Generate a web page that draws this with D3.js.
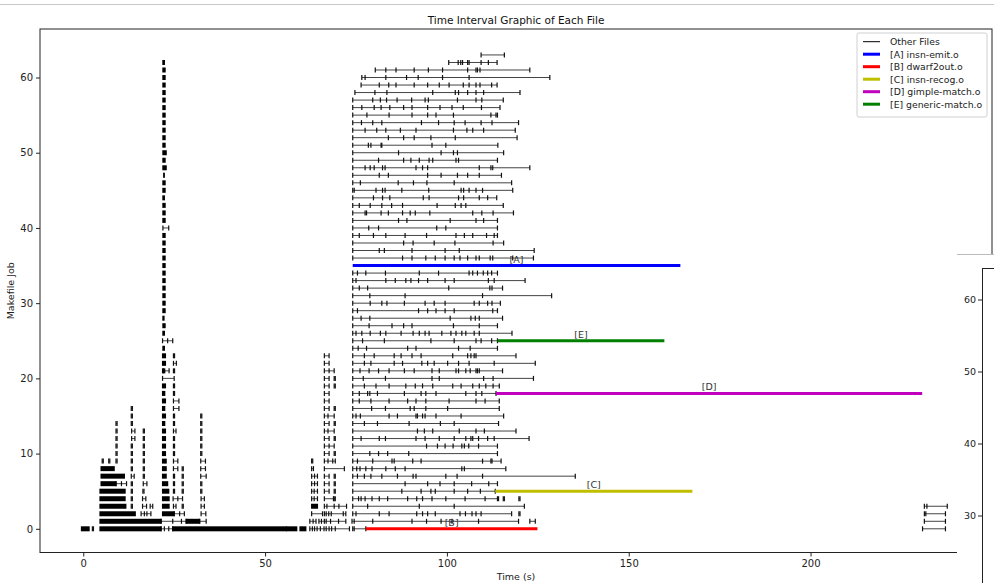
<!DOCTYPE html>
<html><head><meta charset="utf-8">
<script src="https://cdn.jsdelivr.net/npm/d3@7"></script>
<style>body{margin:0;background:#fff}svg{display:block}text{font-family:"DejaVu Sans",sans-serif}</style>
</head><body><svg id="c" width="994" height="583"></svg>
<script>
// ---------------- DATA ----------------
const chartTitle = "Time Interval Graphic of Each File";
const xLabel = "Time (s)";
const yLabel = "Makefile Job";
const xTicks = [0, 50, 100, 150, 200];
const yTicks = [0, 10, 20, 30, 40, 50, 60];

// main block of files per makefile job (index = job), boundaries between files (s)
const mainTicks = [
 [74.1,74.5,77.7],
 [73.9,74.5,79.6,90.4,94.4,98.4,101.4,108.7,119.7],
 [74.1,75.0,81.4,84.1,91.7,93.3,94.7,96.8,103.6,105.1,106.9,108.0,109.4,117.8],
 [74.1,78.2,92.4,102.0,121.3],
 [74.1,75.7,76.4,77.5,79.4,81.4,83.7,89.2,91.7,93.3,95.9,99.7,105.0,110.5,113.9,114.2],
 [74.1,87.6,92.9,95.6,96.8,102.0,105.7,109.2,113.3],
 [74.1,88.5,94.7,98.1,102.0,106.8,111.5,113.9],
 [74.1,75.4,77.3,79.1,82.1,86.4,90.7,91.5,99.7,102.8,109.8,135.3],
 [74.1,75.2,76.1,77.7,79.4,83.2,85.8,88.5,104.1,104.8,116.2],
 [74.1,75.4,79.6,84.9,85.5,90.6,92.9,109.8,112.1,112.4,114.9],
 [74.1,78.8,81.2,83.7,89.5,113.9],
 [74.1,94.4,97.4,99.5,101.7,104.1,104.8,106.0,108.7,113.9],
 [74.1,76.4,81.4,83.1,91.5,94.0,97.9,102.0,105.2,106.6,107.1,108.7,111.2,113.0,122.6],
 [74.1,91.9,93.8,96.1,103.4,108.0,110.3,119.0],
 [74.1,77.3,80.9,89.6,98.2,102.0,114.2],
 [74.1,75.0,76.2,84.1,86.4,91.5,91.9,93.3,94.0,97.0,103.9,115.6],
 [74.1,79.3,83.1,89.9,91.0,94.2,100.2,114.4],
 [74.1,75.9,79.1,84.1,89.2,91.5,94.2,100.6,108.0,110.5,114.4],
 [74.1,75.9,78.2,78.8,80.9,88.3,92.9,94.2,97.0,105.2,108.0,109.6,113.5],
 [74.1,77.3,80.5,84.1,88.7,91.3,93.3,96.1,101.6,103.9,107.1,108.9,110.7,112.7,114.4],
 [74.1,77.0,83.1,95.9,97.9,110.1,112.7,123.8],
 [74.1,76.1,78.6,81.2,84.1,88.3,91.0,95.9,97.9,102.5,103.2,105.2,106.4,108.0,108.4,108.9,115.3],
 [74.1,77.3,79.1,85.5,87.8,93.1,94.7,96.5,100.2,103.2,106.1,113.0,124.3],
 [74.1,77.3,80.0,85.5,87.4,90.4,92.9,101.6,105.7,106.6,107.5,108.0,119.0],
 [74.1,75.6,77.9,89.2,91.5,103.2,106.4,113.9],
 [74.1,76.8,82.8,95.6,102.0,108.0,109.4,112.3,113.9],
 [74.1,75.0,76.6,78.9,81.7,83.2,87.4,90.7,92.4,94.0,95.1,98.6,101.1,102.5,104.1,105.2,107.5,108.9,117.9],
 [74.1,78.6,84.9,88.1,90.4,101.8,108.9,113.9],
 [74.1,76.4,78.8,100.9,106.6,107.8,108.9,115.3],
 [74.1,75.4,92.2,94.7,97.0,99.5,102.0,112.6,113.9],
 [74.1,78.9,82.1,83.5,88.3,94.0,96.5,99.5,107.5,108.9,111.2,112.4,114.7],
 [74.1,78.8,88.5,109.8,128.8],
 [74.1,75.9,78.2,100.5,111.8,112.4,115.3],
 [74.1,75.0,83.2,85.8,88.7,90.1,92.2,94.7,99.5,102.0,111.4,113.0,121.5],
 [74.1,75.4,77.7,83.1,92.4,97.7,106.1,107.1,108.4,110.0,111.2,112.3,113.9],
 [],
 [74.1,87.8,90.4,94.2,96.8,99.5,102.0,103.6,105.7,108.0,108.9,111.9,112.6,118.1,123.8],
 [74.1,81.4,82.8,90.4,99.5,103.4,124.0],
 [74.1,88.1,90.7,96.5,102.2,112.7,115.6],
 [74.1,75.9,79.8,83.2,88.5,94.4,102.5,104.8,107.1,110.9,113.0,113.9],
 [74.1,78.5,81.2,97.2,99.7,113.9],
 [74.1,86.7,89.0,100.9,108.0,110.1,113.9],
 [74.1,77.5,77.9,81.9,83.9,87.8,89.9,91.3,95.3,107.1,109.6,112.7,118.3],
 [74.1,75.9,78.9,82.1,84.8,87.8,97.3,102.3,103.9,105.2,115.5],
 [74.1,79.8,82.3,84.3,93.5,95.1,103.2,104.6,108.9,111.2,113.7],
 [74.1,74.5,80.5,82.3,83.0,87.6,95.0,103.9,104.6,106.1,108.0,109.8,118.1],
 [74.1,76.2,86.6,90.8,94.5,102.0,117.8],
 [74.1,81.4,83.9,94.7,98.4,102.9,105.7,108.9,115.0],
 [74.1,77.5,78.9,80.0,82.3,83.0,91.5,93.3,94.7,108.9,112.1,112.6,122.8],
 [74.1,81.2,88.1,90.1,92.4,95.1,96.1,102.5,103.2,113.9],
 [74.1,86.7,98.4,101.8,102.9,115.6],
 [74.1,78.4,79.1,81.9,82.1,95.9,99.7,114.0],
 [74.1,83.9,88.1,91.0,95.6,102.3,119.3],
 [74.1,77.5,80.7,83.2,87.2,91.5,101.8,105.5,107.1,110.1,118.8],
 [74.1,76.5,79.6,82.1,93.0,97.7,102.0,105.0,109.4,112.4,119.7],
 [74.1,78.0,84.1,90.4,94.7,97.0,101.8,112.1,113.5,113.9],
 [74.1,76.6,80.0,81.9,84.3,88.1,90.4,94.7,98.1,101.4,104.5,109.5,114.6],
 [74.1,79.6,81.7,83.4,86.3,90.3,94.0,94.9,102.9,108.0,109.6,115.5],
 [74.7,80.2,83.5,96.1,102.3,103.2,105.7,108.0,110.1,120.1],
 [76.4,81.4,84.0,86.0,91.0,94.7,97.9,100.6,104.5,106.1,108.0,109.1,112.3,113.8],
 [76.6,77.5,83.2,88.9,92.1,98.8,106.1,128.3],
 [80.3,83.2,86.0,91.0,94.9,98.8,105.7,108.0,108.4,109.1,122.8],
 [100.5,103.1,103.8,104.3,105.7,106.1,109.4,111.4,113.8],
 [109.4,115.8]
];

// other short chains of files: [job, boundaries]
const otherChains = [
 [0,[2.5,2.8]],[0,[21.4,22.3,23.5,24.6]],[0,[62.3,63.0,63.6,64.3,65.2,66.2,66.8,67.6,68.3,69.3,73.2]],[0,[230.8,237.1]],
 [1,[21.4,24.6,27.0,28.3]],[1,[32.0,33.8]],[1,[62.3,63.2,64.0]],[1,[64.8,65.5,66.3,66.8,68.0,70.2,72.2]],[1,[122.8,124.3]],[1,[231.3,237.1]],
 [2,[15.9,16.8,17.5,18.6]],[2,[25.0,26.5,27.8]],[2,[32.4,33.7]],[2,[62.8,65.8]],[2,[66.3,66.8,67.5,68.2,71.5,72.2]],[2,[119.8,120.1]],[2,[231.3,231.7,237.1]],
 [3,[13.2,13.5]],[3,[16.3,17.4]],[3,[18.4,19.1]],[3,[24.8,25.5]],[3,[27.2,27.5]],[3,[32.4,33.3]],[3,[66.3,67.0,69.0,70.3,72.4]],[3,[231.3,232.0,237.6]],
 [4,[13.2,13.5]],[4,[16.3,17.2]],[4,[24.7,26.0,27.3]],[4,[32.4,33.3]],[4,[62.8,63.5,64.4]],[4,[66.3,68.8]],[4,[69.0,69.3]],[4,[115.5,115.8]],[4,[119.8,120.1]],
 [5,[13.2,13.5]],[5,[16.4,16.7]],[5,[24.8,25.1]],[5,[27.2,27.5]],[5,[32.3,32.6]],[5,[62.8,63.5,64.4]],[5,[66.3,67.6]],[5,[69.0,69.3]],
 [6,[9.0,10.5,11.9]],[6,[13.2,13.5]],[6,[16.5,17.5]],[6,[24.8,25.1]],[6,[27.2,27.5]],[6,[32.3,32.6]],[6,[62.8,63.6,64.4]],[6,[66.3,67.6]],[6,[69.0,69.3]],
 [7,[13.2,14.0]],[7,[16.5,16.8]],[7,[24.8,25.1]],[7,[27.2,27.5]],[7,[32.3,33.8]],[7,[62.8,63.6,64.4]],[7,[66.3,67.6]],[7,[69.0,69.3]],
 [8,[13.2,13.5]],[8,[16.5,16.8]],[8,[24.8,26.0]],[8,[27.2,27.5]],[8,[32.3,33.6]],[8,[62.8,63.3]],[8,[66.3,71.8]],
 [9,[5.2,5.5]],[9,[7.0,7.3]],[9,[9.0,9.3]],[9,[13.2,13.5]],[9,[16.5,16.8]],[9,[24.8,26.0]],[9,[32.3,33.6]],[9,[62.8,63.1]],[9,[66.3,67.3,68.6,69.3]],
 [10,[9.0,9.3]],[10,[13.2,13.5]],[10,[16.5,16.8]],[10,[24.8,25.1]],[10,[32.3,32.6]],[10,[66.3,67.6]],[10,[69.0,69.3]],
 [11,[9.0,9.3]],[11,[13.2,13.5]],[11,[16.5,16.8]],[11,[24.8,25.1]],[11,[32.3,32.6]],[11,[66.3,67.6,69.0]],
 [12,[9.0,9.3]],[12,[13.3,14.2]],[12,[16.5,16.8]],[12,[24.8,25.1]],[12,[32.3,32.6]],[12,[66.3,67.6]],[12,[69.0,69.3]],
 [13,[9.0,9.3]],[13,[13.3,14.2]],[13,[16.5,16.8]],[13,[24.8,25.5]],[13,[32.3,32.6]],[13,[66.3,67.3,69.0]],
 [14,[9.0,9.3]],[14,[13.2,13.5]],[14,[24.8,25.1]],[14,[32.3,32.6]],[14,[66.3,67.6]],[14,[69.0,69.3]],
 [15,[13.2,13.5]],[15,[24.8,25.1]],[15,[32.3,32.6]],[15,[66.3,67.3,69.0]],
 [16,[13.2,13.5]],[16,[24.8,26.3]],[16,[66.3,67.6]],[16,[69.0,69.3]],
 [17,[24.8,26.3]],[17,[66.3,67.6]],
 [18,[24.8,25.1]],[18,[66.3,67.6]],
 [19,[24.8,25.1]],[19,[66.3,67.6]],[19,[69.0,69.3]],
 [20,[21.8,25.0]],[20,[66.3,67.6]],[20,[69.0,69.3]],
 [21,[22.0,23.6]],[21,[24.8,25.1]],[21,[66.3,67.6,69.0]],
 [22,[24.8,25.6]],[22,[66.3,67.6]],
 [23,[24.8,25.1]],[23,[66.3,67.6]],
 [25,[21.8,23.2,24.6]],
 [40,[21.9,23.5]],[47,[22.1,22.3]]
];

// runs of many tiny files (drawn as solid blocks): [job, start, end]
const denseRuns = [
 [0,-0.5,1.6],[0,4.6,21.4],[0,24.6,55.8],[0,55.9,58.7],[0,59.6,61.2],
 [1,4.6,21.4],[1,28.3,32.0],
 [2,4.6,14.3],[2,21.8,25.0],
 [3,4.6,11.7],[3,21.8,23.6],[3,62.8,64.4],
 [4,4.6,11.5],[4,21.8,23.6],
 [5,4.6,11.5],[5,21.8,23.5],
 [6,4.9,9.0],[6,21.8,23.2],
 [7,4.9,11.3],[7,21.8,22.8],
 [8,4.9,8.5],[8,21.8,22.8],
 [9,21.8,22.8],[10,21.8,22.6],[11,21.8,22.6],[12,21.8,22.6],[13,21.8,22.6],[14,21.8,22.4],
 [15,21.8,22.6],[16,21.8,22.4],[17,21.8,22.6],[18,21.8,22.4],[19,21.8,22.6],[21,21.8,22.4],
 [22,21.8,22.6],[23,21.8,22.6],[24,21.9,22.3],[26,21.9,22.3],[27,21.9,22.5],[28,21.9,22.2],
 [29,21.9,22.5],[30,21.9,22.5],[31,21.9,22.5],[32,21.9,22.5],[33,21.9,22.5],[34,21.9,22.5],
 [35,21.9,22.5],[36,21.9,22.5],[37,21.9,22.5],[38,21.9,22.5],[39,21.9,22.5],[41,21.9,22.5],
 [42,21.9,22.5],[43,21.9,22.5],[44,21.9,22.3],[45,21.9,22.5],[46,21.9,22.5],[48,21.9,22.8],
 [49,21.9,22.5],[50,21.9,22.8],[51,21.9,22.5],[52,21.9,22.5],[53,21.9,22.5],[54,21.9,22.5],
 [55,21.9,22.5],[56,21.9,22.5],[57,21.9,22.5],[58,21.9,22.5],[59,21.9,22.5],[60,21.9,22.5],
 [61,21.9,22.5],[62,21.9,22.3]
];

// highlighted files
const hlKeys   = ["A", "B", "C", "D", "E"];
const hlNames  = ["insn-emit.o", "dwarf2out.o", "insn-recog.o", "gimple-match.o", "generic-match.o"];
const hlJobs   = [35, 0, 5, 18, 25];
const hlStart  = [74.1, 77.7, 113.3, 113.5, 113.9];
const hlEnd    = [164.2, 124.9, 167.5, 230.7, 159.8];
const hlColors = ["#0000ff", "#ff0000", "#bfbf00", "#bf00bf", "#008000"];

// second window partially covering the figure (its visible y ticks)
const overlayTicks = [60, 50, 40, 30];

// ---------------- DRAW ----------------
const svg = d3.select("#c");
const L = 40, R = 992, T = 29, B = 552.5;
const x = d3.scaleLinear().domain([-11.9, 249.9]).range([L, R]);
const y = d3.scaleLinear().domain([-3.15, 66.45]).range([B, T]);

svg.append("rect").attr("width", 994).attr("height", 583).attr("fill", "#fff");
// window edge
svg.append("line").attr("x1",0).attr("x2",994).attr("y1",4.5).attr("y2",4.5).attr("stroke","#c8c8c8");

svg.append("text").attr("x", (L + R) / 2).attr("y", 23.5).attr("text-anchor", "middle")
  .attr("font-size", 10.5).attr("fill", "#111").text(chartTitle);

const g = svg.append("g");
const TH = 2.5; // tick half-height

function drawChain(job, ticks) {
  if (!ticks.length) return;
  const yy = y(job);
  g.append("line").attr("x1", x(ticks[0])).attr("x2", x(ticks[ticks.length - 1]))
    .attr("y1", yy).attr("y2", yy).attr("stroke", "#444").attr("stroke-width", 1);
  ticks.forEach(t => {
    g.append("line").attr("x1", x(t)).attr("x2", x(t)).attr("y1", yy - TH).attr("y2", yy + TH)
      .attr("stroke", "#111").attr("stroke-width", 1.2);
  });
}
mainTicks.forEach((ticks, job) => drawChain(job, ticks));
otherChains.forEach(d => drawChain(d[0], d[1]));

g.selectAll("rect.dense").data(denseRuns).join("rect").attr("class", "dense")
  .attr("x", d => x(d[1]) - 0.6).attr("width", d => Math.max(1.2, x(d[2]) - x(d[1]) + 1.2))
  .attr("y", d => y(d[0]) - TH).attr("height", TH * 2).attr("fill", "#000");

// highlights
hlKeys.forEach((k, i) => {
  const yy = y(hlJobs[i]);
  g.append("line").attr("x1", x(hlStart[i])).attr("x2", x(hlEnd[i])).attr("y1", yy).attr("y2", yy)
    .attr("stroke", hlColors[i]).attr("stroke-width", 3);
  g.append("text").attr("x", (x(hlStart[i]) + x(hlEnd[i])) / 2).attr("y", yy - 3)
    .attr("text-anchor", "middle").attr("font-size", 9.5).attr("fill", "#333").text("[" + k + "]");
});

// axes
const xAxis = svg.append("g").attr("transform", `translate(0,${B})`)
  .call(d3.axisBottom(x).tickValues(xTicks).tickSize(4).tickPadding(3).tickFormat(d3.format("d")));
const yAxis = svg.append("g").attr("transform", `translate(${L},0)`)
  .call(d3.axisLeft(y).tickValues(yTicks).tickSize(4).tickPadding(3).tickFormat(d3.format("d")));
[xAxis, yAxis].forEach(a => {
  a.select(".domain").remove();
  a.selectAll("text").attr("font-size", 10).attr("fill", "#222").attr("font-family", "DejaVu Sans");
  a.selectAll("line").attr("stroke", "#222");
});
svg.append("rect").attr("x", L).attr("y", T).attr("width", R - L).attr("height", B - T)
  .attr("fill", "none").attr("stroke", "#222").attr("stroke-width", 1);

svg.append("text").attr("x", (L + R) / 2).attr("y", 580).attr("text-anchor", "middle")
  .attr("font-size", 9.5).attr("fill", "#222").text(xLabel);
svg.append("text").attr("transform", `translate(14,${(T + B) / 2}) rotate(-90)`)
  .attr("text-anchor", "middle").attr("font-size", 9.5).attr("fill", "#222").text(yLabel);

// legend
const lg = svg.append("g").attr("transform", "translate(857,33)");
lg.append("rect").attr("width", 130).attr("height", 84).attr("rx", 2).attr("fill", "#fff")
  .attr("fill-opacity", 0.85).attr("stroke", "#d0d0d0");
const legItems = [["Other Files", "#000", 1]].concat(hlKeys.map((k, i) => ["[" + k + "] " + hlNames[i], hlColors[i], 3]));
legItems.forEach((d, i) => {
  const yy = 8.7 + i * 12.5;
  lg.append("line").attr("x1", 6).attr("x2", 23).attr("y1", yy).attr("y2", yy)
    .attr("stroke", d[1]).attr("stroke-width", d[2]);
  lg.append("text").attr("x", 33).attr("y", yy + 3.4).attr("font-size", 9.3).attr("fill", "#222").text(d[0]);
});

// overlapping second window
const ov = svg.append("g");
ov.append("rect").attr("x", 957).attr("y", 254).attr("width", 40).attr("height", 330).attr("fill", "#fff");
ov.append("line").attr("x1", 957).attr("x2", 994).attr("y1", 254.5).attr("y2", 254.5).attr("stroke", "#bbb");
const oy = d3.scaleLinear().domain([30, 60]).range([516, 300]);
ov.append("line").attr("x1", 982.5).attr("x2", 982.5).attr("y1", 268).attr("y2", 583).attr("stroke", "#222");
ov.append("line").attr("x1", 982).attr("x2", 994).attr("y1", 268.5).attr("y2", 268.5).attr("stroke", "#222");
overlayTicks.forEach(t => {
  ov.append("line").attr("x1", 978).attr("x2", 982).attr("y1", oy(t)).attr("y2", oy(t)).attr("stroke", "#222");
  ov.append("text").attr("x", 976).attr("y", oy(t) + 3.3).attr("text-anchor", "end")
    .attr("font-size", 9.5).attr("fill", "#222").text(t);
});
svg.append("clipPath").attr("id", "ovclip").append("rect").attr("x", 957).attr("y", 254).attr("width", 40).attr("height", 330);
ov.append("text").attr("clip-path", "url(#ovclip)").attr("transform", "translate(962,507) rotate(-90)")
  .attr("text-anchor", "middle").attr("font-size", 9.5).attr("fill", "#222").text(yLabel);
</script></body></html>
